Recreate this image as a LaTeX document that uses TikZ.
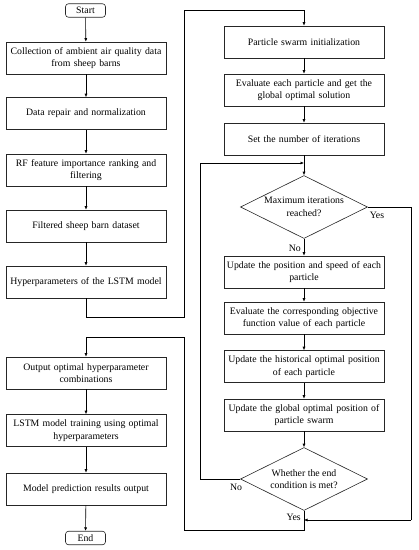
\documentclass[tikz,border=0pt]{standalone}
\usepackage{fontspec}
\setmainfont{Liberation Serif}
\usetikzlibrary{shapes.geometric,arrows.meta}
\begin{document}
\begin{tikzpicture}[x=1pt,y=-1pt,
  every node/.style={font=\fontsize{9.8}{12.5}\selectfont},
  proc/.style={draw=black!85,line width=0.6pt,minimum width=160pt,minimum height=32pt,text width=158pt,align=center,inner sep=1pt},
  term/.style={draw=black!85,line width=0.6pt,rounded corners=3pt,minimum width=40pt,minimum height=13.5pt,inner sep=0pt},
  dec/.style={draw=black!85,line width=0.6pt,shape=diamond,minimum width=127pt,minimum height=63pt,inner sep=0pt},
  dectext/.style={align=center,inner sep=0pt},
  lbl/.style={inner sep=0pt},
  arr/.style={draw=black,line width=0.6pt,-{Latex[length=3.5pt,width=3pt]}},
  ln/.style={draw=black,line width=0.6pt}]
\useasboundingbox (0,0) rectangle (419,550);
% left column
\node[term] (start) at (85.5,10.5) {Start};
\node[proc] (b1) at (86,58) {Collection of ambient air quality data\\ from sheep barns};
\node[proc] (b2) at (86,113.5) {Data repair and normalization};
\node[proc] (b3) at (86,170) {RF feature importance ranking and\\ filtering};
\node[proc] (b4) at (86,226) {Filtered sheep barn dataset};
\node[proc] (b5) at (86,282) {Hyperparameters of the LSTM model};
\node[proc] (l6) at (86,373) {Output optimal hyperparameter\\ combinations};
\node[proc] (l7) at (86,430.5) {LSTM model training using optimal\\ hyperparameters};
\node[proc] (l8) at (86,489) {Model prediction results output};
\node[term] (end) at (85.5,538) {End};
% right column
\node[proc] (p1) at (304,42) {Particle swarm initialization};
\node[proc] (p2) at (304,90) {Evaluate each particle and get the\\ global optimal solution};
\node[proc] (p3) at (304,139) {Set the number of iterations};
\node[dec] (d1) at (304,207) {};
\node[dectext] (d1t) at (d1.center) {Maximum iterations\\ reached?};
\node[proc] (p4) at (304,272) {Update the position and speed of each\\ particle};
\node[proc] (p5) at (304,318) {Evaluate the corresponding objective\\ function value of each particle};
\node[proc] (p6) at (304,366.5) {Update the historical optimal position\\ of each particle};
\node[proc] (p7) at (304,415) {Update the global optimal position of\\ particle swarm};
\node[dec] (d2) at (304,479) {};
\node[dectext] (d2t) at (d2.center) {Whether the end\\ condition is met?};
% labels
\node[lbl] (yes1) at (377,215) {Yes};
\node[lbl,anchor=east] (no1) at (301,248) {No};
\node[lbl] (no2) at (236,487) {No};
\node[lbl,anchor=east] (yes2) at (301,517) {Yes};
% helper coordinates
\coordinate (c1) at (86,317);
\coordinate (c2) at (184,317);
\coordinate (c3) at (184,10);
\coordinate (c4) at (304,10);
\coordinate (m1) at (304,163);
\coordinate (lp1) at (200,479);
\coordinate (lp2) at (200,163);
\coordinate (y1) at (411,207);
\coordinate (y2) at (411,520);
\coordinate (y3) at (304,520);
\coordinate (e1) at (304,530);
\coordinate (e2) at (184,530);
\coordinate (e3) at (184,337);
\coordinate (e4) at (86,337);
% connectors
\draw[arr] (start) -- (b1);
\draw[arr] (b1) -- (b2);
\draw[arr] (b2) -- (b3);
\draw[arr] (b3) -- (b4);
\draw[arr] (b4) -- (b5);
\draw[ln] (b5.south) -- (c1) -- (c2) -- (c3) -- (c4);
\draw[arr] (c4) -- (p1.north);
\draw[arr] (p1) -- (p2);
\draw[arr] (p2) -- (p3);
\draw[arr] (p3) -- (d1.north);
\draw[arr] (d1.south) -- (p4.north);
\draw[arr] (p4) -- (p5);
\draw[arr] (p5) -- (p6);
\draw[arr] (p6) -- (p7);
\draw[arr] (p7) -- (d2.north);
\draw[ln] (d2.west) -- (lp1) -- (lp2);
\draw[arr] (lp2) -- (m1);
\draw[ln] (d1.east) -- (y1) -- (y2);
\draw[arr] (y2) -- (y3);
\draw[ln] (d2.south) -- (e1) -- (e2) -- (e3) -- (e4);
\draw[arr] (e4) -- (l6.north);
\draw[arr] (l6) -- (l7);
\draw[arr] (l7) -- (l8);
\draw[arr] (l8) -- (end);
\end{tikzpicture}
\end{document}
